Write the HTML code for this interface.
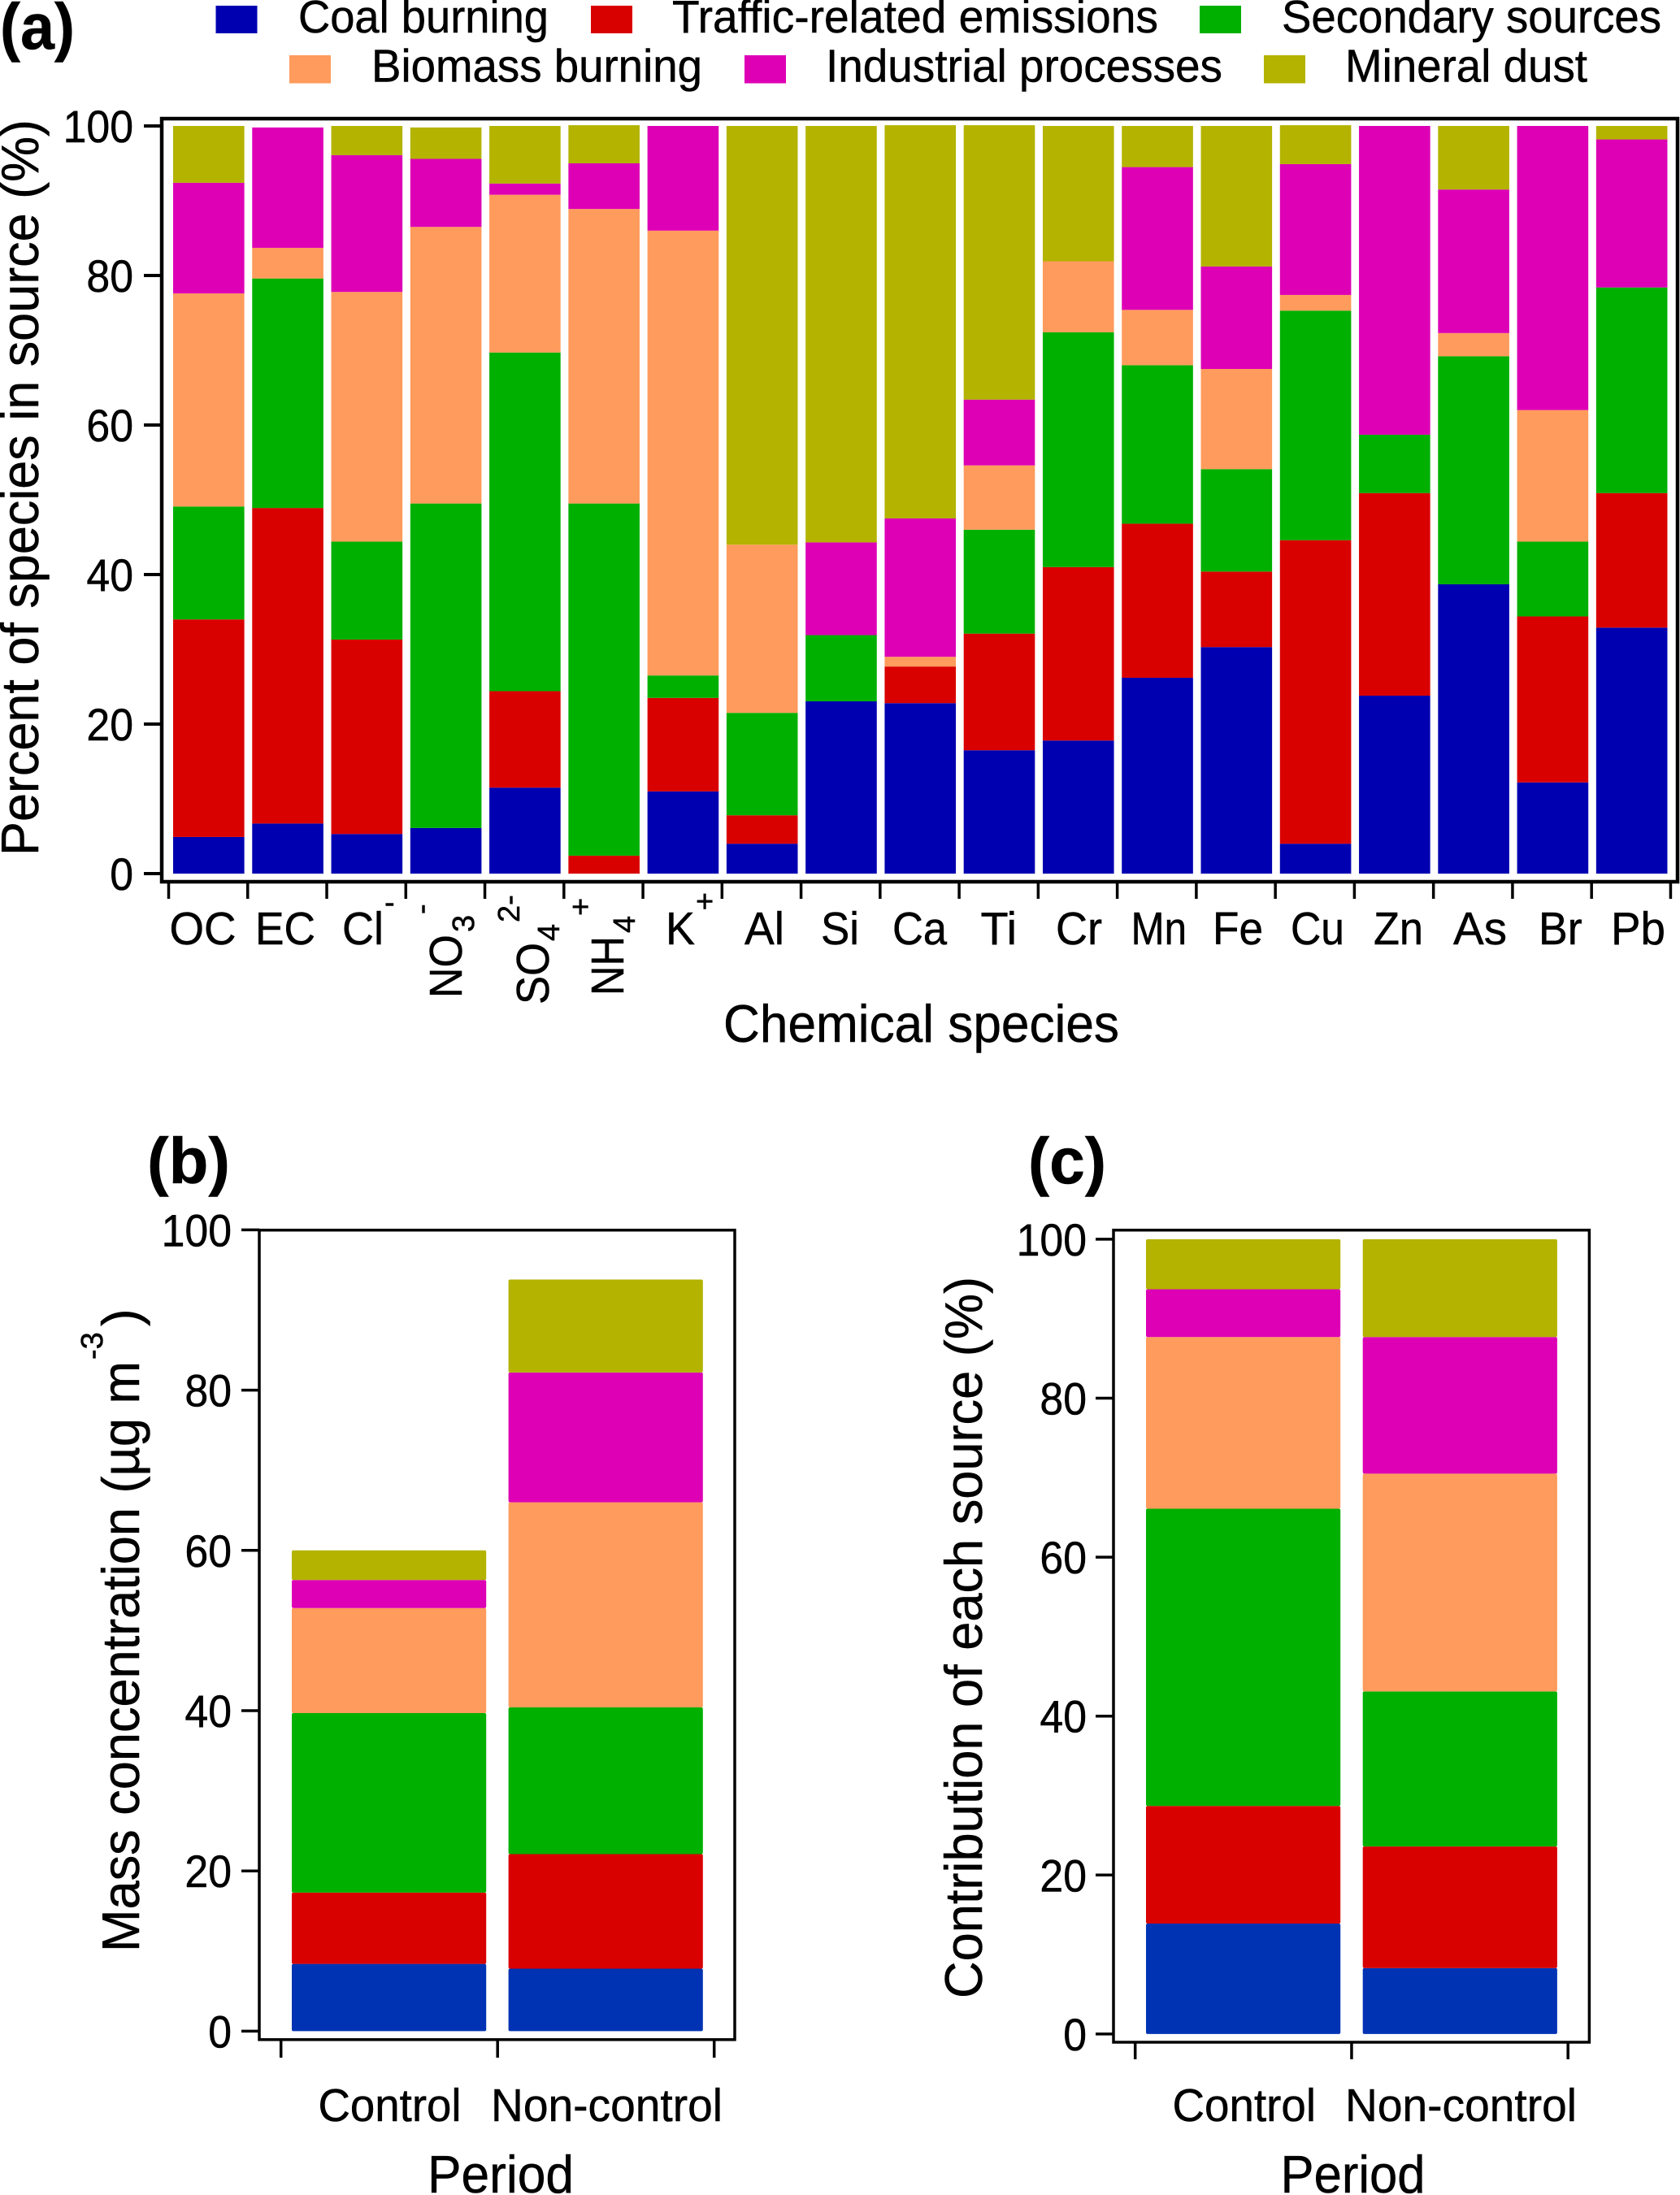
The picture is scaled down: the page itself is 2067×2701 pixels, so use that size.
<!DOCTYPE html>
<html lang="en">
<head>
<meta charset="utf-8">
<title>Source apportionment stacked bars</title>
<style>
html,body{margin:0;padding:0;background:#fff;}
svg{display:block;}
text{font-family:"Liberation Sans",Arial,sans-serif;fill:#000;stroke:#000;stroke-width:.5px;}
.leg{font-size:57px;}
.xl{font-size:57px;}
.sm{font-size:38px;}
.yt{font-size:65px;}
.xt{font-size:65px;}
.pl{font-size:80px;font-weight:bold;}
</style>
</head>
<body>
<svg id="chart" xmlns="http://www.w3.org/2000/svg" width="2067" height="2701" viewBox="0 0 2067 2701">
<rect x="0" y="0" width="2067" height="2701" fill="#fff"/>

<text class="pl" x="0" y="60" textLength="92" lengthAdjust="spacingAndGlyphs">(a)</text>

<g>
<rect x="265.5" y="7" width="51" height="34" fill="#0000b0"/>
<text class="leg" x="367" y="40" textLength="308" lengthAdjust="spacingAndGlyphs">Coal burning</text>
<rect x="727" y="7" width="51" height="34" fill="#d90000"/>
<text class="leg" x="827" y="40" textLength="598" lengthAdjust="spacingAndGlyphs">Traffic-related emissions</text>
<rect x="1476" y="7" width="51" height="34" fill="#00b000"/>
<text class="leg" x="1577" y="40" textLength="467" lengthAdjust="spacingAndGlyphs">Secondary sources</text>
<rect x="356" y="68" width="51" height="34.5" fill="#ff9b5c"/>
<text class="leg" x="457" y="100.5" textLength="407" lengthAdjust="spacingAndGlyphs">Biomass burning</text>
<rect x="916" y="68" width="51" height="34.5" fill="#dd00b5"/>
<text class="leg" x="1016" y="100.5" textLength="488" lengthAdjust="spacingAndGlyphs">Industrial processes</text>
<rect x="1555" y="68" width="51" height="34.5" fill="#b3b300"/>
<text class="leg" x="1655" y="100.5" textLength="298" lengthAdjust="spacingAndGlyphs">Mineral dust</text>
</g>

<g id="panelA"></g>
<g id="panelB"></g>
<g id="panelC"></g>

<text class="yt" transform="translate(47,1053) rotate(-90)" textLength="906" lengthAdjust="spacingAndGlyphs">Percent of species in source (%)</text>

<g>
<text class="xl" x="208.5" y="1162" textLength="82" lengthAdjust="spacingAndGlyphs">OC</text>
<text class="xl" x="314" y="1162" textLength="74" lengthAdjust="spacingAndGlyphs">EC</text>
<text class="xl" x="421" y="1162" textLength="51" lengthAdjust="spacingAndGlyphs">Cl</text>
<text class="sm" x="473" y="1123">-</text>
<text class="xl" transform="translate(568,1228) rotate(-90)" textLength="78" lengthAdjust="spacingAndGlyphs">NO</text>
<text class="sm" transform="translate(583,1147) rotate(-90)">3</text>
<text class="sm" transform="translate(531,1125) rotate(-90)">-</text>
<text class="xl" transform="translate(675,1236) rotate(-90)" textLength="76" lengthAdjust="spacingAndGlyphs">SO</text>
<text class="sm" transform="translate(688,1158) rotate(-90)">4</text>
<text class="sm" transform="translate(639,1135) rotate(-90)">2-</text>
<text class="xl" transform="translate(767,1225) rotate(-90)" textLength="73" lengthAdjust="spacingAndGlyphs">NH</text>
<text class="sm" transform="translate(781,1148) rotate(-90)">4</text>
<text class="sm" transform="translate(727,1127) rotate(-90)">+</text>
<text class="xl" x="819" y="1162" textLength="36" lengthAdjust="spacingAndGlyphs">K</text>
<text class="sm" x="856" y="1122">+</text>
<text class="xl" x="916" y="1162" textLength="49" lengthAdjust="spacingAndGlyphs">Al</text>
<text class="xl" x="1010" y="1162" textLength="47" lengthAdjust="spacingAndGlyphs">Si</text>
<text class="xl" x="1098" y="1162" textLength="67" lengthAdjust="spacingAndGlyphs">Ca</text>
<text class="xl" x="1206.5" y="1162" textLength="44.5" lengthAdjust="spacingAndGlyphs">Ti</text>
<text class="xl" x="1299" y="1162" textLength="57" lengthAdjust="spacingAndGlyphs">Cr</text>
<text class="xl" x="1391.5" y="1162" textLength="68.5" lengthAdjust="spacingAndGlyphs">Mn</text>
<text class="xl" x="1492" y="1162" textLength="62" lengthAdjust="spacingAndGlyphs">Fe</text>
<text class="xl" x="1588" y="1162" textLength="66" lengthAdjust="spacingAndGlyphs">Cu</text>
<text class="xl" x="1690" y="1162" textLength="61" lengthAdjust="spacingAndGlyphs">Zn</text>
<text class="xl" x="1788" y="1162" textLength="66" lengthAdjust="spacingAndGlyphs">As</text>
<text class="xl" x="1893" y="1162" textLength="53.6" lengthAdjust="spacingAndGlyphs">Br</text>
<text class="xl" x="1982" y="1162" textLength="67" lengthAdjust="spacingAndGlyphs">Pb</text>
</g>
<text class="xt" x="890" y="1282" textLength="487" lengthAdjust="spacingAndGlyphs">Chemical species</text>

<text class="pl" x="181" y="1456" textLength="102" lengthAdjust="spacingAndGlyphs">(b)</text>
<text class="yt" transform="translate(171,2402) rotate(-90)" textLength="727" lengthAdjust="spacingAndGlyphs">Mass concentration (µg m</text>
<text class="sm" transform="translate(126,1673) rotate(-90)">-3</text>
<text class="yt" transform="translate(171,1632) rotate(-90)">)</text>
<text class="xl" x="391.5" y="2610" textLength="176" lengthAdjust="spacingAndGlyphs">Control</text>
<text class="xl" x="604" y="2610" textLength="285" lengthAdjust="spacingAndGlyphs">Non-control</text>
<text class="xt" x="526" y="2698" textLength="180" lengthAdjust="spacingAndGlyphs">Period</text>

<text class="pl" x="1265" y="1456" textLength="96" lengthAdjust="spacingAndGlyphs">(c)</text>
<text class="yt" transform="translate(1208,2459) rotate(-90)" textLength="888" lengthAdjust="spacingAndGlyphs">Contribution of each source (%)</text>
<text class="xl" x="1442.5" y="2610" textLength="176.5" lengthAdjust="spacingAndGlyphs">Control</text>
<text class="xl" x="1655" y="2610" textLength="285" lengthAdjust="spacingAndGlyphs">Non-control</text>
<text class="xt" x="1575.5" y="2698" textLength="178" lengthAdjust="spacingAndGlyphs">Period</text>
</svg>

<script>
// Panel (a): percent of each species by source
const species = ["OC","EC","Cl","NO3","SO4","NH4","K","Al","Si","Ca","Ti","Cr","Mn","Fe","Cu","Zn","As","Br","Pb"];
const coalBurning = [4.9,6.7,5.3,6.1,11.5,0,11,4,23.05,22.8,16.5,17.8,26.2,30.3,4,23.8,38.7,12.2,32.9];
const trafficEmissions = [29.1,42.2,26,0,12.9,2.4,12.5,3.8,0,4.9,15.6,23.2,20.6,10.1,40.6,27.1,0,22.2,18];
const secondarySources = [15.1,30.7,13.1,43.4,45.3,47.1,3,13.7,8.85,0,13.9,31.4,21.2,13.7,30.7,7.8,30.5,10,27.5];
const biomassBurning = [28.5,4.1,33.4,37,21.1,39.4,59.5,22.5,0,1.3,8.6,9.5,7.4,13.4,2.1,0,3.1,17.6,0];
const industrialProcesses = [14.8,16.1,18.3,9.1,1.5,6.1,14,0,12.4,18.5,8.8,0,19.1,13.7,17.5,41.3,19.2,38,19.8];
const mineralDust = [7.6,0,3.9,4.2,7.7,5.1,0,56,55.7,52.6,36.7,18.1,5.5,18.8,5.2,0,8.5,0,1.8];

// Panels (b), (c): order is coal, traffic, secondary, biomass, industrial, dust
const sourceNames = ["coal","traffic","secondary","biomass","industrial","mineral"];
const periods = ["control","non-control"];
const massControl = [8.4,8.9,22.4,13.1,3.5,3.7];
const massNonControl = [7.8,14.3,18.3,25.6,16.2,11.6];
const shareControl = [13.9,14.8,37.4,21.6,6,6.3];
const shareNonControl = [8.3,15.3,19.5,27.4,17.2,12.3];

const yTickValues = [0,20,40,60,80,100];

const svgNS = "http://www.w3.org/2000/svg";
function node(parent, tag, attrs) {
  const el = document.createElementNS(svgNS, tag);
  for (const k in attrs) el.setAttribute(k, attrs[k]);
  parent.appendChild(el);
  return el;
}
function linearY(y0, pxPerUnit) { return function (v) { return y0 - v * pxPerUnit; }; }
function tickLabelLength(label) { return String(label).length * 28.8; }

function drawFrame(parent, name, left, top, right, bottom, sw) {
  const frame = node(parent, "rect", {x:left, y:top, width:right-left, height:bottom-top, fill:"none", stroke:"#000", "stroke-width":sw});
  
  
}
function drawYAxis(parent, name, yScale, frameLeft, labelRight, sw) {
  yTickValues.forEach(function (v) {
    const tick = node(parent, "line", {x1:frameLeft-22, x2:frameLeft, y1:yScale(v), y2:yScale(v), stroke:"#000", "stroke-width":sw});
    
    
    const label = node(parent, "text", {x:labelRight, y:yScale(v)+20, "text-anchor":"end", "font-size":56, textLength:tickLabelLength(v), lengthAdjust:"spacingAndGlyphs"});
    
    
    label.textContent = String(v);
  });
}
function drawXTick(parent, name, x, top, bottom, sw) {
  const tick = node(parent, "line", {x1:x, x2:x, y1:top, y2:bottom, stroke:"#000", "stroke-width":sw});
  
  
}
function drawStack(parent, name, values, colors, x, w, yScale, rx) {
  let sum = 0;
  values.forEach(function (v, i) {
    if (v <= 0) return;
    const y1 = yScale(sum + v), y0 = yScale(sum);
    const seg = node(parent, "rect", {x:x, y:y1, width:w, height:y0-y1, fill:colors[i], rx:rx});
    
    
    sum += v;
  });
}

const colorsA = ["#0000b0","#d90000","#00b000","#ff9b5c","#dd00b5","#b3b300"];
const colorsBC = ["#0033b3","#d90000","#00b000","#ff9b5c","#dd00b5","#b3b300"];

// Panel a
(function () {
  const g = document.getElementById("panelA");
  const y = linearY(1075, 9.2);
  const barX = function (i) { return 213 + i * 97.27; };
  const tickX = function (i) { return 207.5 + i * 97.26; };
  species.forEach(function (s, i) {
    drawStack(g, "bar-" + s.toLowerCase(),
      [coalBurning[i], trafficEmissions[i], secondarySources[i], biomassBurning[i], industrialProcesses[i], mineralDust[i]],
      colorsA, barX(i), 87.6, y, 0);
  });
  drawFrame(g, "panel-a", 199, 146, 2064, 1085, 4.5);
  drawYAxis(g, "panel-a", y, 199, 164, 4);
  for (let i = 0; i <= species.length; i++) drawXTick(g, "panel-a", tickX(i), 1085, 1106, 3.5);
})();

// Panel b
(function () {
  const g = document.getElementById("panelB");
  const y = linearY(2499.4, 9.86);
  const barX = function (i) { return 359 + i * 266.6; };
  const tickX = function (i) { return 345.7 + i * 266.5; };
  [massControl, massNonControl].forEach(function (vals, i) {
    drawStack(g, "panel-b-bar-" + periods[i], vals, colorsBC, barX(i), 239.2, y, 2);
  });
  drawFrame(g, "panel-b", 319, 1513.7, 904, 2509.8, 3.5);
  drawYAxis(g, "panel-b", y, 319, 285, 3.5);
  for (let i = 0; i <= periods.length; i++) drawXTick(g, "panel-b", tickX(i), 2509.8, 2532, 3.5);
})();

// Panel c
(function () {
  const g = document.getElementById("panelC");
  const y = linearY(2502.9, 9.78);
  const barX = function (i) { return 1410 + i * 266.7; };
  const tickX = function (i) { return 1396.7 + i * 266.25; };
  [shareControl, shareNonControl].forEach(function (vals, i) {
    drawStack(g, "panel-c-bar-" + periods[i], vals, colorsBC, barX(i), 239.2, y, 2);
  });
  drawFrame(g, "panel-c", 1370, 1513.7, 1955.4, 2513, 3.5);
  drawYAxis(g, "panel-c", y, 1370, 1337, 3.5);
  for (let i = 0; i <= periods.length; i++) drawXTick(g, "panel-c", tickX(i), 2513, 2534, 3.5);
})();
</script>
</body>
</html>
